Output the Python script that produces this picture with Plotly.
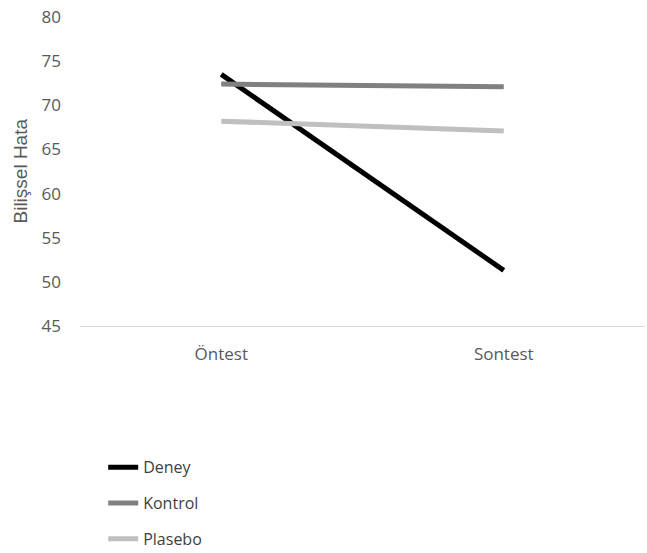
import plotly.graph_objects as go

categories = ["Öntest", "Sontest"]
series_names = ["Deney", "Kontrol", "Plasebo"]
deney = [73.5, 51.3]
kontrol = [72.4, 72.1]
plasebo = [68.2, 67.1]
y_ticks = [45, 50, 55, 60, 65, 70, 75, 80]
y_title = "Bilişsel Hata"

colors = ["#000000", "#808080", "#bfbfbf"]
values = [deney, kontrol, plasebo]

fig = go.Figure()
for name, vals, col in zip(series_names, values, colors):
    fig.add_trace(go.Scatter(
        x=categories, y=vals, mode="lines", name=name,
        legendgroup=name,
        line=dict(color=col, width=5),
    ))

fig.update_layout(
    width=647, height=553,
    margin=dict(l=80, r=2, t=17, b=227, autoexpand=False),
    plot_bgcolor="white", paper_bgcolor="white",
    font=dict(family="Open Sans, sans-serif", color="#595959", size=17),
    showlegend=True,
    legend=dict(
        orientation="v", xref="container", yref="container",
        x=0.1595, xanchor="left", y=0.1858, yanchor="top",
        traceorder="grouped", tracegroupgap=12,
        font=dict(size=16, color="#404040"),
        itemwidth=30,
    ),
    xaxis=dict(
        type="category", range=[-0.5, 1.5], automargin=False,
        showline=True, linecolor="#d9d9d9", linewidth=1,
        showgrid=False, zeroline=False, ticks="",
        ticklabelstandoff=13,
    ),
    yaxis=dict(
        range=[45, 80], tickvals=y_ticks, automargin=False,
        showgrid=False, zeroline=False, showline=False, ticks="",
        ticklabelstandoff=18, ticklabeloverflow="allow",
    ),
    annotations=[dict(
        text=y_title, textangle=-90, xref="paper", yref="paper",
        x=0, y=0.5, xanchor="center", yanchor="middle", xshift=-60,
        showarrow=False,
        font=dict(family="Liberation Sans, Arial, sans-serif", size=19, color="#595959"),
    )],
)

fig.write_html(
    "out.html",
    config={"displayModeBar": False},
    post_script="document.body.style.margin='0';document.body.style.overflow='hidden';",
)
